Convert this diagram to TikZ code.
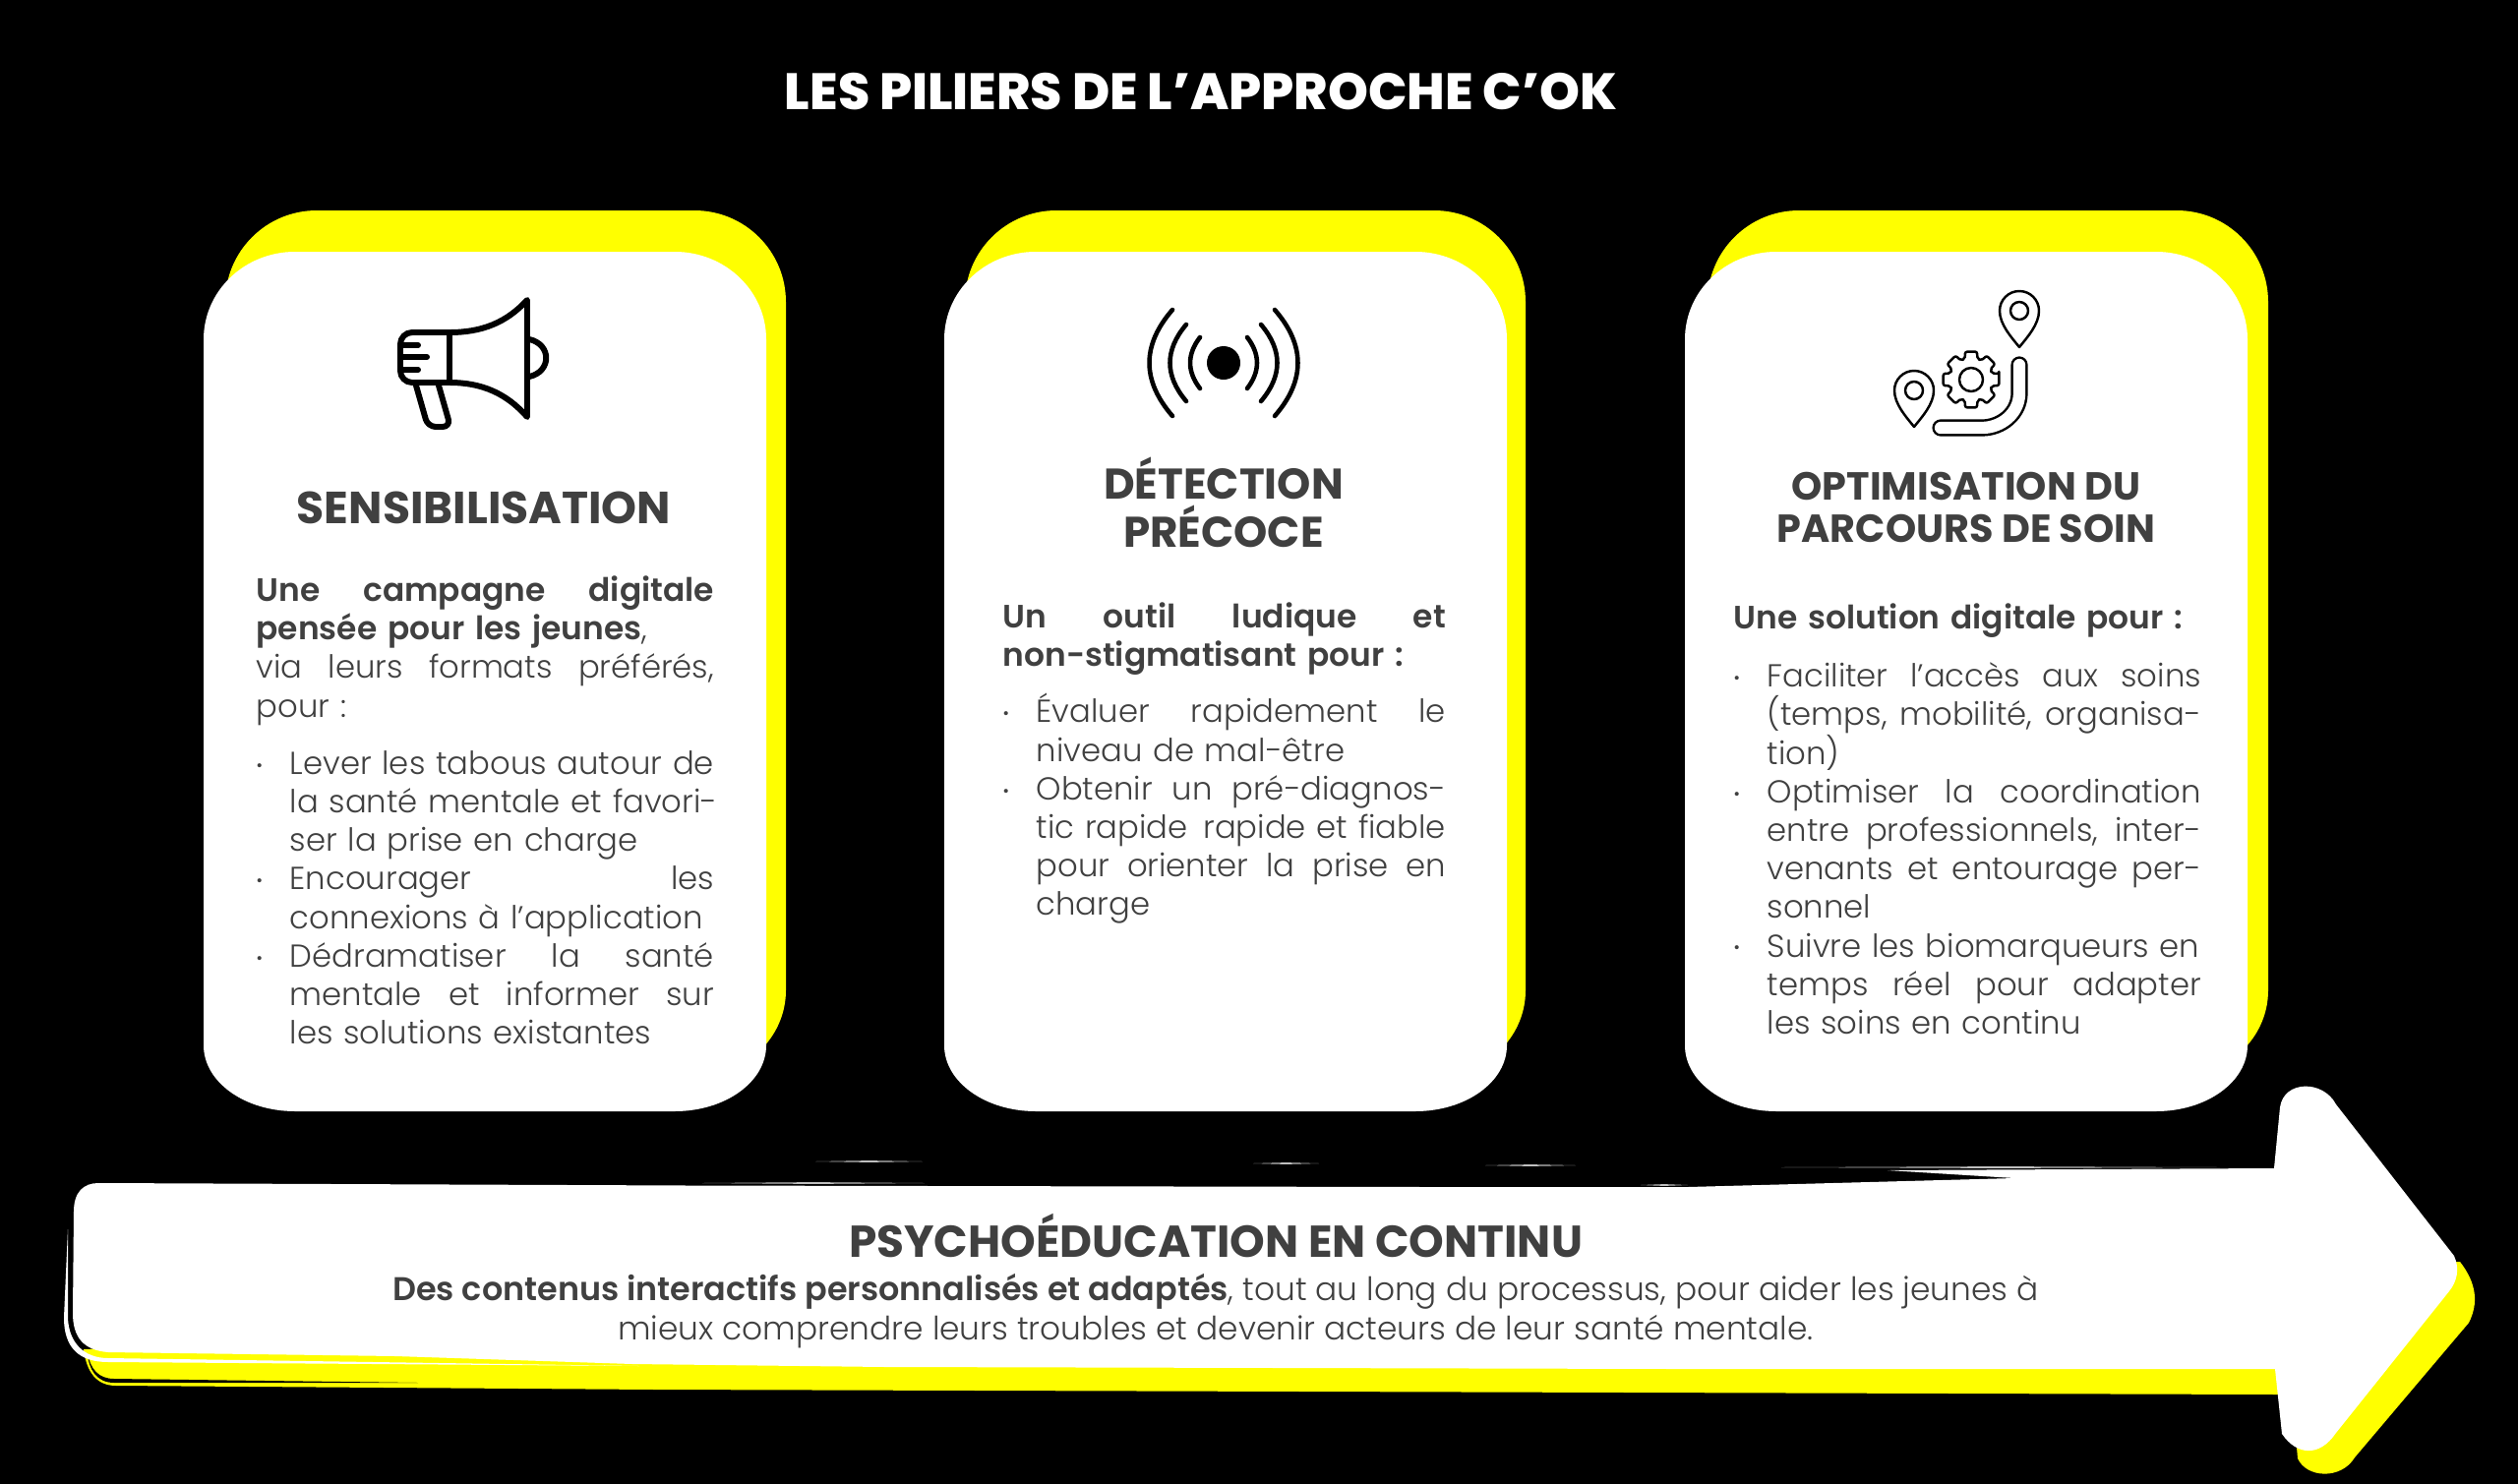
\documentclass[tikz,border=0pt]{standalone}
\usepackage{fontspec}
\setmainfont{Poppins Light}[BoldFont={Poppins SemiBold}, BoldFeatures={Scale=1.018}]
\newfontfamily\titlefont{Poppins ExtraBold}
\newfontfamily\boldtitlefont{Poppins Bold}
\definecolor{inkgray}{HTML}{404040}
\definecolor{acidyellow}{HTML}{FFFF00}
\tikzset{
	cardtitle/.style={inkgray, align=center, inner sep=0pt},
	cardtext/.style={inkgray, font=\fontsize{9.18}{11.15}\selectfont, anchor=north west, inner sep=0pt},
	iconline/.style={black, line cap=round, line join=round},
}
% card outline: left, top, bottom, width, height of top corners, height of bottom corners
\newcommand{\cardpath}[6]{(#1+93, #2) -- (#1+#4-93, #2) arc[start angle=270, end angle=360, x radius=93, y radius=#5] -- (#1+#4, #3-#6) arc[start angle=0, end angle=90, x radius=93, y radius=#6] -- (#1+93, #3) arc[start angle=90, end angle=180, x radius=93, y radius=#6] -- (#1, #2+#5) arc[start angle=180, end angle=270, x radius=93, y radius=#5] -- cycle}
% justified line, free line, bullet first line, and the lines that follow a bullet
\newlength{\mypx}
\setlength{\mypx}{0.2845pt}
\newcommand{\jline}[1]{\hbox to \hsize{#1}}
\newcommand{\fline}[1]{\hbox{#1}}
\newcommand{\bline}[1]{\hbox to \hsize{\hbox to 34\mypx{\raisebox{.1em}{\tiny•}\hfil}#1}}
\newcommand{\tline}[1]{\hbox to \hsize{\hskip 34\mypx #1}}
\newcommand{\tfree}[1]{\hbox{\hskip 34\mypx #1}}
\begin{document}
\begin{tikzpicture}[x=0.01cm, y=-0.01cm]
	\fill[black] (0, 0) rectangle (2560, 1509);
	\useasboundingbox (0, 0) rectangle (2560, 1509);
	% the three cards
	\foreach \whitex/\yellowx in {207/229, 960/981, 1713/1736} {
		\fill[acidyellow] \cardpath{\yellowx}{214}{1095}{570}{93}{88};
		\fill[white] \cardpath{\whitex}{256}{1130}{572}{89}{67};
	}
	% arrow
	\fill[acidyellow] (85, 1372) .. controls (88, 1395) and (98, 1409) .. (118, 1409) -- (666, 1413) -- (2316, 1418)
		-- (2335, 1472) -- (2336, 1483) .. controls (2345, 1503) and (2380, 1505) .. (2394, 1482)
		-- (2510, 1345) .. controls (2520, 1325) and (2518, 1305) .. (2501, 1283) -- (2000, 1300) -- cycle;
	\fill[black] (89, 1376) .. controls (92, 1392) and (100, 1402) .. (116, 1402) -- (425, 1406)
		-- (116, 1406) .. controls (98, 1406) and (90, 1392) .. (89, 1376) -- cycle;
	\fill[white] (69, 1250) -- (65, 1340) .. controls (65, 1370) and (80, 1385) .. (110, 1385) -- (650, 1389)
		-- (110, 1381) .. controls (85, 1381) and (70, 1365) .. (69, 1340) -- cycle;
	\fill[white] (75, 1232) .. controls (75, 1212) and (85, 1203) .. (100, 1203)
		-- (700, 1205.5) -- (1450, 1207) -- (1716, 1207) -- (2048, 1198) -- (1919, 1190) -- (2312, 1188)
		-- (2318, 1126) .. controls (2322, 1098) and (2362, 1098) .. (2375, 1123)
		-- (2495, 1277) .. controls (2501, 1290) and (2498, 1303) .. (2490, 1313)
		-- (2375, 1457) .. controls (2358, 1482) and (2335, 1480) .. (2320, 1458)
		-- (2313, 1392) -- (1700, 1392) -- (900, 1390) -- (643, 1387) -- (402, 1379) -- (110, 1375)
		.. controls (85, 1373) and (74, 1360) .. (74, 1335) -- cycle;
	% thin strokes above the arrow
	\foreach \froma/\toa/\heighta in {714/940/1203, 829/938/1181, 1274/1341/1183, 1510/1602/1185, 1668/1716/1205, 1811/2257/1187} {
		\fill[white!75!black] (\froma, \heighta) -- ({(\froma+\toa)/2}, \heighta-.9) -- (\toa, \heighta) -- ({(\froma+\toa)/2}, \heighta+.9) -- cycle;
	}
	% icons
	\begin{scope}[iconline, line width=1.7pt]
		\draw[rounded corners=.12cm] (457, 338) -- (407, 338) -- (407, 389) -- (457, 389);
		\draw (457, 338) -- (457, 389);
		\draw (457, 338) .. controls (490, 338) and (515, 328) .. (536, 305) -- (536, 424) .. controls (515, 400) and (490, 389) .. (457, 389);
		\draw (538, 345) .. controls (561, 350) and (561, 378) .. (538, 383);
		\draw (408, 351) -- (425, 351);
		\draw (408, 363) -- (434, 363);
		\draw (408, 376) -- (425, 376);
		\draw[rounded corners=.08cm] (423, 392) -- (435, 434) -- (458, 434) -- (446, 392);
	\end{scope}
	\begin{scope}[iconline, line width=1.3pt, shift={(1244, 369)}]
		\fill[black] (0, 0) circle[radius=17];
		\foreach \sx in {-1, 1} {
			\foreach \ex/\ey/\cx/\cy in {24/26/37.3/8.7, 38/39/60/13, 52/54/83.3/18} {
				\draw (\sx*\ex, -\ey) .. controls (\sx*\cx, -\cy) and (\sx*\cx, \cy) .. (\sx*\ex, \ey);
			}
		}
	\end{scope}
	\begin{scope}[iconline, line width=.7pt]
		\foreach \pinx/\piny in {2053/316, 1946/397} {
			\draw[shift={(\pinx, \piny)}] (0, 37) .. controls (-8, 27) and (-20, 14) .. (-20, 0) arc[start angle=180, end angle=360, radius=20] .. controls (20, 14) and (8, 27) .. (0, 37) -- cycle;
			\draw (\pinx, \piny) circle[radius=9];
		}
		\draw[shift={(2004, 386)}, rounded corners=.02cm] (-12:29) \foreach \tooth in {0, 45, ..., 315} { -- (\tooth-12:29) -- (\tooth+12:29) -- (\tooth+17:22) -- (\tooth+28:22) } -- cycle;
		\draw (2004, 386) circle[radius=12];
		\draw[line width=4.9pt, line cap=round] (2053, 371) -- (2053, 400) .. controls (2053, 420) and (2035, 435) .. (2015, 435) -- (1973, 435);
		\draw[white, line width=3.5pt, line cap=round] (2053, 371) -- (2053, 400) .. controls (2053, 420) and (2035, 435) .. (2015, 435) -- (1973, 435);
	\end{scope}
	% texts
	\node[white, font=\fontsize{14.8}{17}\titlefont, inner sep=0pt] (heading) at (1221, 93) {LES PILIERS DE L’APPROCHE C’OK};
	\node[cardtitle, font=\fontsize{13}{14}\boldtitlefont] (titleone) at (492, 516) {SENSIBILISATION};
	\node[cardtitle, font=\fontsize{12.4}{13.9}\boldtitlefont] (titletwo) at (1244, 511) {DÉTECTION\\PRÉCOCE};
	\node[cardtitle, font=\fontsize{11.3}{12.1}\boldtitlefont] (titlethree) at (1999, 516) {OPTIMISATION DU\\PARCOURS DE SOIN};
	\node[cardtext, text width=4.65cm] (textone) at (260, 585) {
		\jline{\textbf{Une}\hfil \textbf{campagne}\hfil \textbf{digitale}}
		\fline{\textbf{pensée pour les jeunes},}
		\jline{via\hfil leurs\hfil formats\hfil préférés,}
		\fline{pour :}
		\vskip 19\mypx
		\bline{Lever les tabous autour de}
		\tline{la santé mentale et favori-}
		\tfree{ser la prise en charge}
		\bline{Encourager\hfil les}
		\tfree{connexions à l’application}
		\bline{Dédramatiser\hfil la\hfil santé}
		\tline{mentale\hfil et\hfil informer\hfil sur}
		\tfree{les solutions existantes}};
	\node[cardtext, text width=4.5cm] (texttwo) at (1019, 612) {
		\jline{\textbf{Un}\hfil \textbf{outil}\hfil \textbf{ludique}\hfil \textbf{et}}
		\fline{\textbf{non-stigmatisant pour :}}
		\vskip 18\mypx
		\bline{Évaluer\hfil rapidement\hfil le}
		\tfree{niveau de mal-être}
		\bline{Obtenir\hfil un\hfil pré-diagnos-}
		\tline{tic rapide\hfil rapide et fiable}
		\tline{pour\hfil orienter\hfil la\hfil prise\hfil en}
		\tfree{charge}};
	\node[cardtext, text width=4.75cm] (textthree) at (1762, 613) {
		\fline{\textbf{Une solution digitale pour :}}
		\vskip 20\mypx
		\bline{Faciliter\hfil l’accès\hfil aux\hfil soins}
		\tline{(temps,\hfil mobilité,\hfil organisa-}
		\tfree{tion)}
		\bline{Optimiser\hfil la\hfil coordination}
		\tline{entre\hfil professionnels,\hfil inter-}
		\tline{venants\hfil et\hfil entourage\hfil per-}
		\tfree{sonnel}
		\bline{Suivre les biomarqueurs en}
		\tline{temps\hfil réel\hfil pour\hfil adapter}
		\tfree{les soins en continu}};
	\node[cardtitle, font=\fontsize{12.9}{14}\boldtitlefont] (arrowtitle) at (1236, 1257) {PSYCHOÉDUCATION EN CONTINU};
	\node[cardtext, font=\fontsize{9.33}{11.15}\selectfont, anchor=north, align=center] (arrowtext) at (1236, 1295) {\textbf{Des contenus interactifs personnalisés et adaptés}, tout au long du processus, pour aider les jeunes à\\mieux comprendre leurs troubles et devenir acteurs de leur santé mentale.};
\end{tikzpicture}
\end{document}
